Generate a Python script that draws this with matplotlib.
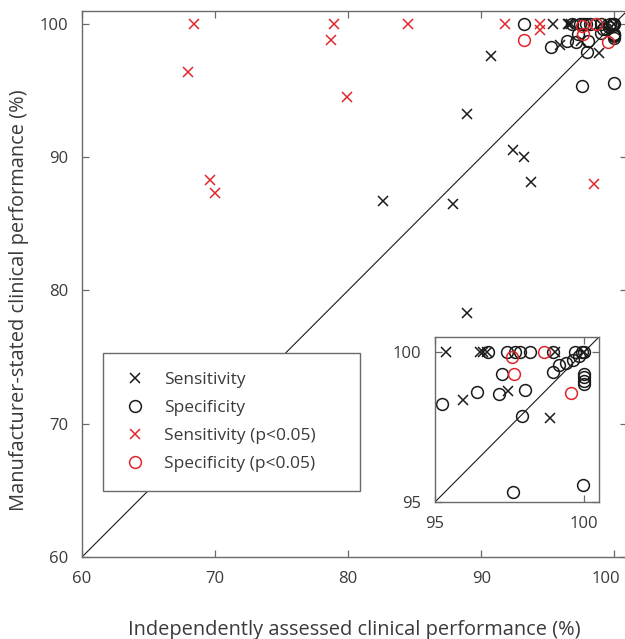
import matplotlib
matplotlib.use("Agg")
import matplotlib.pyplot as plt
import matplotlib.transforms as mtransforms
from matplotlib.lines import Line2D

plt.rcParams['font.family'] = ['Open Sans', 'DejaVu Sans']

# Sensitivity (not significant)
sens_x = [82.6, 87.9, 88.9, 88.9, 90.7, 92.4, 93.2, 93.7, 95.37, 95.93, 96.51, 96.62,
          96.73, 97.46, 98.84, 99.03, 100.0]
sens_y = [86.7, 86.5, 93.2, 78.3, 97.6, 90.5, 90.0, 88.15, 100.0, 98.4, 100.0, 100.0,
          100.0, 98.7, 97.81, 100.0, 100.0]

# Specificity (not significant)
spec_x = [93.2, 95.24, 96.41, 96.78, 97.13, 97.24, 97.43, 97.6, 97.68, 97.85, 98.2,
          98.02, 97.91, 98.97, 98.97, 99.15, 99.4, 99.62, 99.82, 99.7, 99.92, 100.0,
          100.0, 100.0, 100.0, 100.0, 99.98]
spec_y = [100.0, 98.27, 98.67, 100.0, 98.6, 99.26, 100.0, 95.35, 100.0, 100.0, 100.0,
          98.73, 97.88, 100.0, 99.32, 99.58, 99.62, 99.75, 99.88, 100.0, 100.0, 100.0,
          99.26, 99.15, 99.04, 98.93, 95.57]

# Sensitivity (p<0.05)
sens_sig_x = [68.4, 67.95, 69.6, 70.0, 78.9, 78.7, 79.9, 84.5, 91.8, 94.4, 94.45, 98.5]
sens_sig_y = [100.0, 96.4, 88.3, 87.3, 100.0, 98.8, 94.5, 100.0, 100.0, 100.0, 99.5, 88.0]

# Specificity (p<0.05)
spec_sig_x = [93.2, 97.57, 97.64, 98.65, 99.55]
spec_sig_y = [98.8, 99.85, 99.26, 100.0, 98.62]

main_ticks = [60, 70, 80, 90, 100]
inset_ticks = [95, 100]

RED = '#e0262b'
BLK = '#1a1a1a'
SPINE = '#6a6a6a'
TXT = '#3a3a3a'
MS = 8.5
MEW = 1.1

fig = plt.figure(figsize=(6.25, 6.39), dpi=100)
ax = fig.add_axes([82/625, (639-557)/639, 545/625, 546/639])


def draw(a):
    a.plot(sens_x, sens_y, ls='none', marker='x', ms=MS*0.85, mew=MEW, color=BLK)
    a.plot(spec_x, spec_y, ls='none', marker='o', ms=MS, mew=MEW, mfc='none', mec=BLK)
    a.plot(sens_sig_x, sens_sig_y, ls='none', marker='x', ms=MS*0.85, mew=MEW, color=RED)
    a.plot(spec_sig_x, spec_sig_y, ls='none', marker='o', ms=MS, mew=MEW, mfc='none', mec=RED)


def style(a, ticks, lo, hi, fs, pad):
    a.set_xlim(lo, hi)
    a.set_ylim(lo, hi)
    a.plot([lo, hi], [lo, hi], color=BLK, lw=0.8, zorder=1)
    a.set_xticks(ticks)
    a.set_yticks(ticks)
    a.tick_params(direction='in', top=True, right=True, length=5, width=0.9,
                  color=SPINE, labelcolor=TXT, labelsize=fs, pad=pad)
    for s in a.spines.values():
        s.set_color(SPINE)
        s.set_linewidth(1.0)


draw(ax)
style(ax, main_ticks, 60, 100.95, 12, 10)
ax.set_xlabel('Independently assessed clinical performance (%)', fontsize=14.4,
              color=TXT, labelpad=24)
ax.set_ylabel('Manufacturer-stated clinical performance (%)', fontsize=14.4,
              color=TXT)
ax.yaxis.set_label_coords(-0.097, 0.4707)

# keep the last x tick label inside the figure
fig.canvas.draw()
last = ax.get_xticklabels()[-1]
last.set_transform(last.get_transform() +
                   mtransforms.ScaledTranslation(-9/100, 0, fig.dpi_scale_trans))

handles = [
    Line2D([], [], ls='none', marker='x', ms=MS*0.85, mew=MEW, color=BLK),
    Line2D([], [], ls='none', marker='o', ms=MS, mew=MEW, mfc='none', mec=BLK),
    Line2D([], [], ls='none', marker='x', ms=MS*0.85, mew=MEW, color=RED),
    Line2D([], [], ls='none', marker='o', ms=MS, mew=MEW, mfc='none', mec=RED),
]
labels = ['Sensitivity', 'Specificity', 'Sensitivity (p<0.05)', 'Specificity (p<0.05)']
leg = ax.legend(handles, labels, loc='lower left',
                bbox_to_anchor=(21/545, 66/546, 257/545, 0.2), mode='expand',
                borderaxespad=0, fontsize=12.5, frameon=True, fancybox=False,
                borderpad=1.1, labelspacing=0.68, handlelength=1.5, handletextpad=0.9,
                edgecolor=SPINE, framealpha=1)
leg.get_frame().set_linewidth(1.0)
for t in leg.get_texts():
    t.set_color(TXT)

ins = fig.add_axes([435/625, (639-502)/639, 164/625, 165/639])
draw(ins)
style(ins, inset_ticks, 95, 100.5, 12, 10)

fig.savefig('out.png', dpi=100)
